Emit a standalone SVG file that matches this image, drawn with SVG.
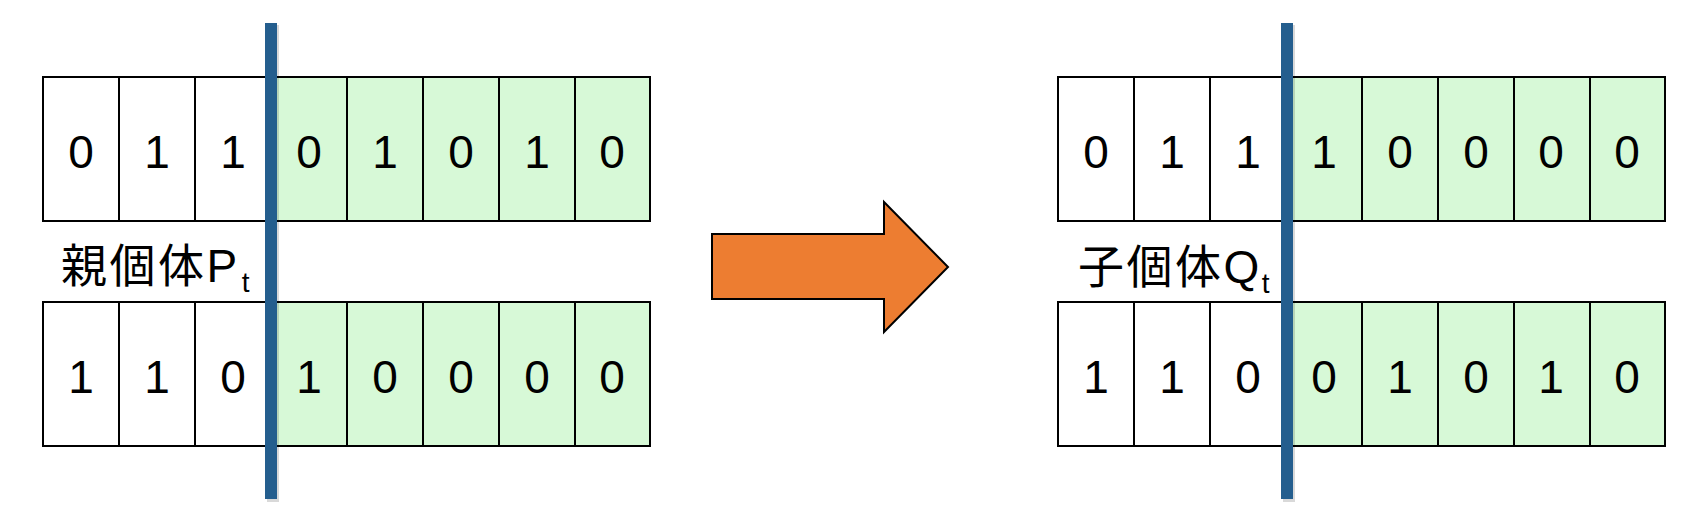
<svg xmlns="http://www.w3.org/2000/svg" width="1698" height="517" viewBox="0 0 1698 517">
<style>
.w{fill:#ffffff;stroke:#000000;stroke-width:2}
.g{fill:#d7f9d7;stroke:#000000;stroke-width:2}
.d{font-family:"Liberation Sans",Arial,sans-serif;font-size:46px;fill:#000000;text-anchor:middle}
.lab{font-family:"Liberation Sans","Noto Sans CJK JP",sans-serif;font-size:46px;letter-spacing:2.5px;fill:#000000}
.sub{font-size:28px;letter-spacing:0}
.cut{fill:#245e8e}
.sh{fill:#000000;opacity:0.15}
</style>
<defs>
<g id="cells">
<rect class="w" x="0" y="0" width="76" height="144"/>
<rect class="w" x="76" y="0" width="76" height="144"/>
<rect class="w" x="152" y="0" width="76" height="144"/>
<rect class="g" x="228" y="0" width="76" height="144"/>
<rect class="g" x="304" y="0" width="76" height="144"/>
<rect class="g" x="380" y="0" width="76" height="144"/>
<rect class="g" x="456" y="0" width="76" height="144"/>
<rect class="g" x="532" y="0" width="75" height="144"/>
</g>
</defs>

<g id="parent1">
<use href="#cells" x="43" y="77"/>
<text class="d" y="168"><tspan x="81">0</tspan><tspan x="157">1</tspan><tspan x="233">1</tspan><tspan x="309">0</tspan><tspan x="385">1</tspan><tspan x="461">0</tspan><tspan x="537">1</tspan><tspan x="612">0</tspan></text>
</g>
<g id="parent2">
<use href="#cells" x="43" y="302"/>
<text class="d" y="393"><tspan x="81">1</tspan><tspan x="157">1</tspan><tspan x="233">0</tspan><tspan x="309">1</tspan><tspan x="385">0</tspan><tspan x="461">0</tspan><tspan x="537">0</tspan><tspan x="612">0</tspan></text>
</g>
<g id="parent-label">
<text class="lab" x="61" y="282">親個体P<tspan class="sub" dx="2" dy="10">t</tspan></text>
</g>
<g id="cut-left">
<rect class="sh" x="267" y="25" width="12" height="477"/>
<rect class="cut" x="265" y="23" width="12" height="476"/>
</g>

<g id="child1">
<use href="#cells" x="1058" y="77"/>
<text class="d" y="168"><tspan x="1096">0</tspan><tspan x="1172">1</tspan><tspan x="1248">1</tspan><tspan x="1324">1</tspan><tspan x="1400">0</tspan><tspan x="1476">0</tspan><tspan x="1551">0</tspan><tspan x="1627">0</tspan></text>
</g>
<g id="child2">
<use href="#cells" x="1058" y="302"/>
<text class="d" y="393"><tspan x="1096">1</tspan><tspan x="1172">1</tspan><tspan x="1248">0</tspan><tspan x="1324">0</tspan><tspan x="1400">1</tspan><tspan x="1476">0</tspan><tspan x="1551">1</tspan><tspan x="1627">0</tspan></text>
</g>
<g id="child-label">
<text class="lab" x="1078" y="283">子個体Q<tspan class="sub" dx="0" dy="10">t</tspan></text>
</g>
<g id="cut-right">
<rect class="sh" x="1283" y="25" width="12" height="477"/>
<rect class="cut" x="1281" y="23" width="12" height="476"/>
</g>

<g id="connectors">
<polygon points="712,234 884,234 884,202 948,267 884,332 884,299 712,299" fill="#ed7d31" stroke="#000000" stroke-width="2"/>
</g>
</svg>
